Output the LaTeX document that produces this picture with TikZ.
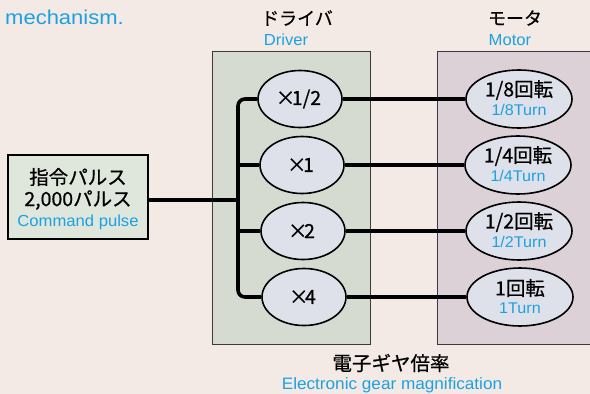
\documentclass[tikz,border=0pt]{standalone}
\usepackage{fontspec}
\setmainfont{Liberation Sans}
\newfontfamily\widesans[FakeStretch=1.1]{Liberation Sans}
\newfontfamily\bluesans[FakeStretch=1.04]{Liberation Sans}
\newfontfamily\jp[FakeBold=0.6]{Noto Sans CJK JP}
\usetikzlibrary{shapes.geometric}
\definecolor{bg}{HTML}{F4EAE5}
\definecolor{drvfill}{HTML}{D5DBD0}
\definecolor{motfill}{HTML}{DDD1D8}
\definecolor{cmdfill}{HTML}{DFE7DC}
\definecolor{elfill}{HTML}{DFE1EA}
\definecolor{bluetxt}{HTML}{1BA1E2}
\definecolor{boxline}{HTML}{3A3A3A}
\tikzset{
  area/.style={draw=boxline, line width=1.1pt, anchor=north west, inner sep=0pt},
  cmdbox/.style={draw=black, line width=2.2pt, fill=cmdfill, minimum width=140pt, minimum height=84pt, inner sep=0pt, align=center},
  drvel/.style={ellipse, draw=black, line width=1.6pt, fill=elfill, minimum width=84pt, minimum height=57pt, inner sep=0pt, font=\jp\fontsize{19.5}{22}\selectfont},
  motel/.style={ellipse, draw=black, line width=1.6pt, fill=elfill, minimum width=106pt, minimum height=58pt, inner sep=0pt, align=center},
  wire/.style={line width=3.6pt, draw=black},
  jtitle/.style={font=\jp\fontsize{18}{20}\selectfont, inner sep=0pt},
  etitle/.style={font=\bluesans\fontsize{16}{18}\selectfont, text=bluetxt, inner sep=0pt},
}
\newcommand{\bigj}[1]{{\jp\fontsize{19.5}{22}\selectfont #1}}
\newcommand{\smallb}[1]{{\bluesans\fontsize{15.5}{17}\selectfont\color{bluetxt}#1}}
\newcommand{\tms}{\kern-3pt×\kern-3.5pt}
\begin{document}
\begin{tikzpicture}[x=1pt,y=-1pt]
\useasboundingbox (0,0) rectangle (590,394);
\fill[bg] (0,0) rectangle (590,394);

\node[anchor=west, inner sep=0pt, text=bluetxt, font=\widesans\fontsize{20}{22}\selectfont] (mech) at (5,17) {mechanism.};

\node[area, fill=drvfill, minimum width=158pt, minimum height=293pt] (drvbox) at (212,51) {};
\node[area, fill=motfill, minimum width=160pt, minimum height=293pt] (motbox) at (437,51) {};

\node[jtitle] (drvj) at (297,18) {ドライバ};
\node[etitle] (drve) at (286,40) {Driver};
\node[jtitle] (motj) at (515,18) {モータ};
\node[etitle] (mote) at (510,40) {Motor};

\node[cmdbox] (cmd) at (78,197) {};
\node[inner sep=0pt] (cmd1) at (78,177) {\bigj{指令パルス}};
\node[inner sep=0pt] (cmd2) at (78,200) {\bigj{2,000パルス}};
\node[inner sep=0pt] (cmd3) at (78,222) {\bluesans\fontsize{16}{18}\selectfont\color{bluetxt}Command pulse};

\node[drvel] (d1) at (300,99) {\tms 1/2};
\node[drvel] (d2) at (302,165) {\tms 1};
\node[drvel] (d3) at (303,231) {\tms 2};
\node[drvel] (d4) at (304,297) {\tms 4};

\node[motel] (m1) at (519,99) {};
\node[motel] (m2) at (518,165) {};
\node[motel] (m3) at (519,231) {};
\node[motel] (m4) at (520,297) {};

\node[inner sep=0pt] (m1a) at (519,90) {\bigj{1/8回転}};
\node[inner sep=0pt] (m1b) at (519,110) {\smallb{1/8Turn}};
\node[inner sep=0pt] (m2a) at (518,156) {\bigj{1/4回転}};
\node[inner sep=0pt] (m2b) at (518,176) {\smallb{1/4Turn}};
\node[inner sep=0pt] (m3a) at (519,222) {\bigj{1/2回転}};
\node[inner sep=0pt] (m3b) at (519,242) {\smallb{1/2Turn}};
\node[inner sep=0pt] (m4a) at (520,288) {\bigj{1回転}};
\node[inner sep=0pt] (m4b) at (520,308) {\smallb{1Turn}};

\coordinate (j) at (238,200);
\draw[wire] (cmd.east |- j) -- (j);
\draw[wire, rounded corners=7pt] (d1.west) -| (j) |- (d4.west);
\draw[wire] (j |- d2.west) -- (d2.west);
\draw[wire] (j |- d3.west) -- (d3.west);
\draw[wire] (d1.east) -- (m1.west);
\draw[wire] (d2.east) -- (m2.west);
\draw[wire] (d3.east) -- (m3.west);
\draw[wire] (d4.east) -- (m4.west);

\node[inner sep=0pt] (gearj) at (391,363) {\bigj{電子ギヤ倍率}};
\node[inner sep=0pt] (geare) at (392,385) {\bluesans\fontsize{16.5}{18}\selectfont\color{bluetxt}Electronic gear magnification};
\end{tikzpicture}
\end{document}
